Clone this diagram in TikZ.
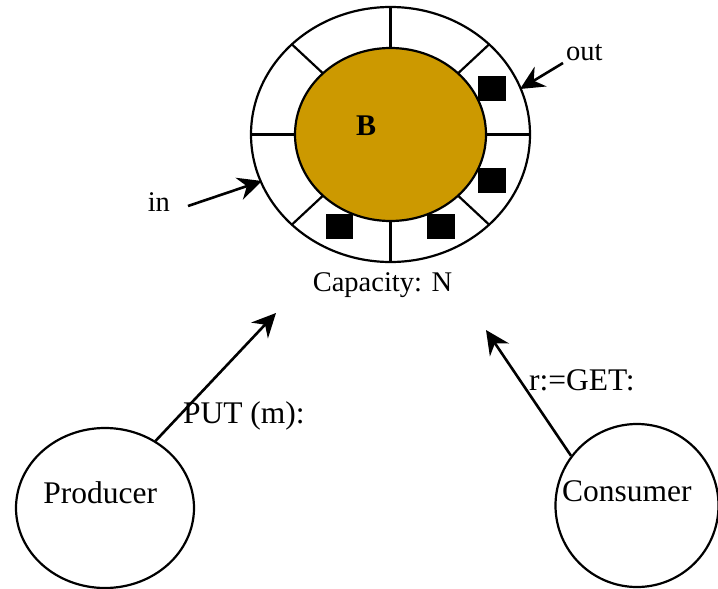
\documentclass[tikz,border=0pt]{standalone}
\usepackage{fontspec}
\setmainfont{Liberation Serif}
\usetikzlibrary{shapes.geometric,arrows.meta}
\definecolor{gold}{RGB}{204,153,0}
\begin{document}
\begin{tikzpicture}[x=1pt,y=-1pt, line width=2.2pt,
  lbl/.style={anchor=base west, inner sep=0pt, font=\fontsize{31.5}{38}\selectfont},
  smalllbl/.style={lbl, font=\fontsize{28.5}{34}\selectfont},
  arr/.style={line width=2.6pt, -{Stealth[length=24pt,width=23pt,inset=8pt]}},
  actor/.style={ellipse, draw, line width=2.2pt, inner sep=0pt}]
\path[use as bounding box] (0,0) rectangle (718,589);
% ring buffer
\fill[white] (390.5,134.5) ellipse [x radius=139.5, y radius=127.5];
\draw (390.5,134.5) ellipse [x radius=139.5, y radius=127.5];
\foreach \a in {0,45,...,315}
  \draw ({390.5+95.5*cos(\a)},{134.5+86.5*sin(\a)}) -- ({390.5+139.5*cos(\a)},{134.5+127.5*sin(\a)});
\node[ellipse, draw, fill=gold, minimum width=191, minimum height=173, inner sep=0pt] (buf) at (390.5,134.5) {};
% stored items
\fill (478,76) rectangle (506,101);
\fill (478,168) rectangle (506,193);
\fill (326,214) rectangle (353,239);
\fill (427,214) rectangle (455,239);
% labels
\node[lbl, font=\bfseries\fontsize{30}{36}\selectfont] (b) at (355,135) {B};
\node[smalllbl] (cap) at (311.7,291.7) {Capacity: N};
\node[smalllbl] (in) at (146.7,211.7) {in};
\node[smalllbl] (out) at (565,60) {out};
\node[lbl] (put) at (182,423) {PUT (m):};
\node[lbl] (get) at (528,390) {r:=GET:};
% actors
\node[actor, minimum width=178, minimum height=160] (prod) at (105,508) {};
\node[lbl] (prodtext) at (42.3,503) {Producer};
\node[actor, minimum width=163, minimum height=163] (cons) at (637,505.5) {};
\node[lbl] (constext) at (561,501.7) {Consumer};
% arrows
\coordinate (puttip) at (276,313);
\coordinate (gettip) at (486,330);
\coordinate (inS) at (188,206);
\coordinate (inT) at (262,181);
\coordinate (outS) at (563,63);
\coordinate (outT) at (520,89);
\draw[arr] (prod.53.5) -- (puttip);
\draw[arr] (cons.143.1) -- (gettip);
\draw[arr] (inS) -- (inT);
\draw[arr] (outS) -- (outT);
\end{tikzpicture}
\end{document}
